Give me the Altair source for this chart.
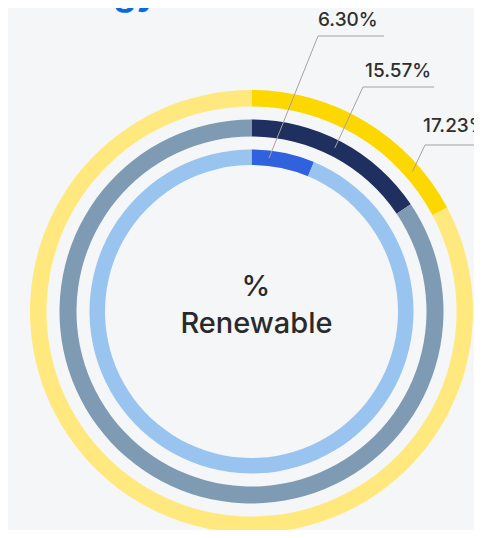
import math
import altair as alt
import pandas as pd

# ---- data ----
rings = ["outer", "middle", "inner"]
renewable_pct = [17.23, 15.57, 6.30]
labels = ["17.23%", "15.57%", "6.30%"]
highlight_colors = ["#FDD700", "#1F3060", "#2F62DC"]
base_colors = ["#FFE97F", "#7F9AB3", "#9AC4F0"]
title_text = "Energy"
center_lines = ["%", "Renewable"]

# ---- layout (chart coordinates) ----
W, H = 466, 522
CX, CY = 243.5, 303.5
ring_radii = {"outer": (205, 221.5), "middle": (175, 192), "inner": (146.5, 162)}
anchor_deg = {"outer": 49, "middle": 27, "inner": 6.5}
elbow = {"outer": (417, 137), "middle": (355, 79), "inner": (310, 28)}
line_end = {"outer": (480, 137), "middle": (426, 79), "inner": (376, 28)}
text_pos = {"outer": (415, 124), "middle": (357, 69), "inner": (310, 18)}
BG = "#F5F6F8"

arc_rows = []
for r, p, hc, bc in zip(rings, renewable_pct, highlight_colors, base_colors):
    arc_rows.append({"ring": r, "seg": 0, "value": p, "color": hc})
    arc_rows.append({"ring": r, "seg": 1, "value": 100 - p, "color": bc})
arc_df = pd.DataFrame(arc_rows)

layers = []
for r in rings:
    r_in, r_out = ring_radii[r]
    layers.append(
        alt.Chart(arc_df)
        .transform_filter(alt.datum.ring == r)
        .mark_arc(strokeWidth=0)
        .encode(
            theta=alt.Theta("value:Q", stack=True),
            order=alt.Order("seg:O"),
            color=alt.Color("color:N", scale=None),
            radius=alt.value(r_out),
            radius2=alt.value(r_in),
            x=alt.value(CX),
            y=alt.value(CY),
        )
    )

seg_rows = []
lab_rows = []
for r, lab in zip(rings, labels):
    r_in, r_out = ring_radii[r]
    rm = (r_in + r_out) / 2
    a = math.radians(anchor_deg[r])
    ax, ay = CX + rm * math.sin(a), CY - rm * math.cos(a)
    ex, ey = elbow[r]
    lx, ly = line_end[r]
    seg_rows.append({"x": ax, "y": ay, "x2": ex, "y2": ey})
    seg_rows.append({"x": ex, "y": ey, "x2": lx, "y2": ly})
    tx, ty = text_pos[r]
    lab_rows.append({"x": tx, "y": ty, "label": lab})
seg_df = pd.DataFrame(seg_rows)
lab_df = pd.DataFrame(lab_rows)

rules = alt.Chart(seg_df).mark_rule(color="#A3A3A3", strokeWidth=1).encode(
    x=alt.X("x:Q", scale=None, axis=None),
    y=alt.Y("y:Q", scale=None, axis=None),
    x2="x2:Q",
    y2="y2:Q",
)

texts = alt.Chart(lab_df).mark_text(
    align="left", baseline="alphabetic", font="Inter", fontSize=19,
    fontWeight=500, color="#2E2E2E"
).encode(
    x=alt.X("x:Q", scale=None, axis=None),
    y=alt.Y("y:Q", scale=None, axis=None),
    text="label:N",
)

center_df = pd.DataFrame({"t": center_lines, "x": [248, 248.5], "y": [288, 325]})
center = alt.Chart(center_df).mark_text(
    align="center", baseline="alphabetic", font="Inter", fontSize=29,
    fontWeight=500, color="#2A2A2A"
).encode(
    x=alt.X("x:Q", scale=None, axis=None),
    y=alt.Y("y:Q", scale=None, axis=None),
    text="t:N",
)

title_df = pd.DataFrame({"t": [title_text], "x": [150], "y": [-3]})
title = alt.Chart(title_df).mark_text(
    align="right", baseline="alphabetic", font="Inter", fontSize=36,
    fontWeight="bold", color="#0A6BE0"
).encode(
    x=alt.X("x:Q", scale=None, axis=None),
    y=alt.Y("y:Q", scale=None, axis=None),
    text="t:N",
)

chart = (
    alt.layer(*layers, rules, texts, center, title)
    .properties(
        width=W,
        height=H,
        background=BG,
        padding=0,
        autosize=alt.AutoSizeParams(type="none"),
    )
    .configure_view(stroke=None)
)

chart.save("out.html", embed_options={"renderer": "svg", "actions": False})
